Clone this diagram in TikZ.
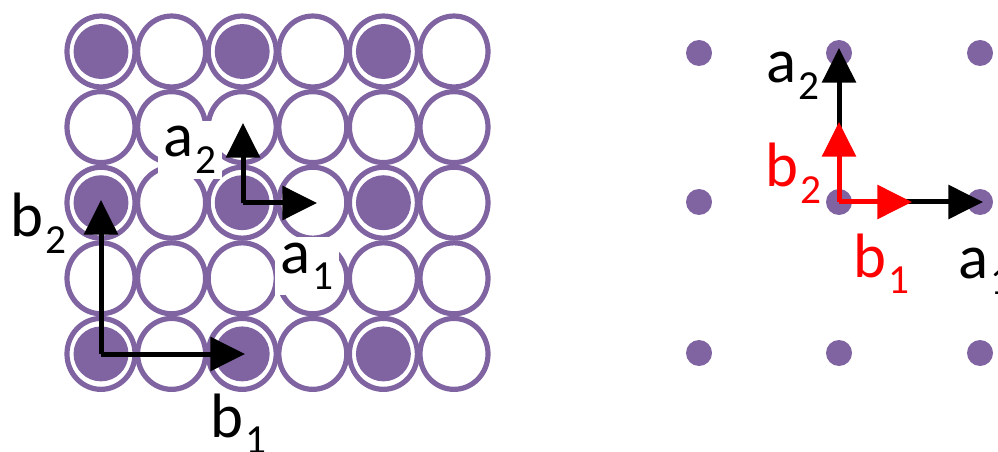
\documentclass[tikz,border=0pt]{standalone}
\usepackage{fontspec}
\setmainfont{Carlito}
\usetikzlibrary{arrows.meta}
\definecolor{latt}{HTML}{8064A2}
\newcommand{\vlab}[2]{#1\kern1.5pt\raisebox{-0.27em}{\fontsize{31}{31}\selectfont #2}}
\tikzset{
  ring/.style={draw=latt, line width=3.9pt},
  vec/.style={->, line width=3.75pt},
  lab/.style={anchor=base west, inner sep=0pt, font=\fontsize{47}{50}\selectfont},
  blank/.style={lab, fill=white, inner sep=4pt}
}
\begin{document}
\begin{tikzpicture}[x=0.75pt, y=-0.75pt, >={Triangle[length=26pt,width=25pt]}]
      \useasboundingbox (0, 0) rectangle (998, 452);

      % close packed layer
      \foreach \i in {0,...,5}
        \foreach \j in {0,...,4}
          \draw[ring] (101+70.6*\i, 51.5+75.6*\j) ellipse (25.5pt and 26.6pt);
      \foreach \i in {0,2,4}
        \foreach \j in {0,2,4}
          \fill[latt] (101+70.6*\i, 51.5+75.6*\j) circle (20.6pt);

      \node[blank] (la2) at (158, 157) {\vlab{a}{2}};
      \node[blank] (la1) at (275, 273) {\vlab{a}{1}};
      \node[lab] (lb2) at (10, 237) {\vlab{b}{2}};
      \node[lab] (lb1) at (210, 437) {\vlab{b}{1}};

      \coordinate (bo) at (101, 354);
      \coordinate (btip1) at (245, 354);
      \coordinate (btip2) at (101, 200);
      \coordinate (ao) at (243, 203);
      \coordinate (atip1) at (317, 203);
      \coordinate (atip2) at (243, 123);
      \draw[vec] (bo) -- (btip2);
      \draw[vec] (bo) -- (btip1);
      \draw[vec] (ao) -- (atip2);
      \draw[vec] (ao) -- (atip1);

      % square lattice
      \foreach \x in {699, 839, 980}
        \foreach \y in {53, 202, 353}
          \fill[latt] (\x, \y) circle (9.75pt);

      \coordinate (po) at (839, 202);
      \coordinate (ptip1) at (983, 202);
      \coordinate (ptip2) at (839, 48);
      \coordinate (qtip1) at (912, 202);
      \coordinate (qtip2) at (839, 122);
      \draw[vec] (po) -- (ptip1);
      \draw[vec] (po) -- (ptip2);
      \draw[vec, red] (po) -- (qtip1);
      \draw[vec, red] (po) -- (qtip2);

      \node[lab] (ra2) at (766, 83) {\vlab{a}{2}};
      \node[lab, red] (rb2) at (765, 187) {\vlab{b}{2}};
      \node[lab, red] (rb1) at (853, 277) {\vlab{b}{1}};
      \node[lab] (ra1) at (958, 278) {\vlab{a}{1}};
    \end{tikzpicture}
\end{document}
